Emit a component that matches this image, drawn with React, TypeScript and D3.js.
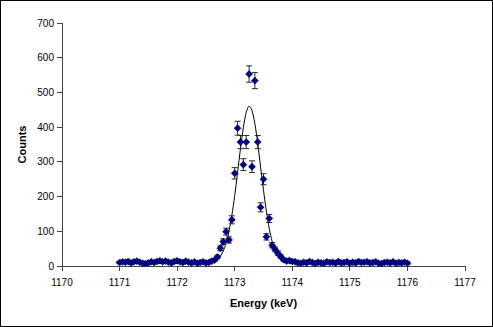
import React, { useEffect, useRef } from 'react';
import * as d3 from 'd3';

// measured spectrum: one channel every 0.05 keV from 1171.00 to 1176.00
const startEnergy = 1171;
const channelWidth = 0.05;
const counts = [
  // 1171.00 - 1172.50
  10, 12, 11, 13, 9, 12, 14, 11, 8, 7, 9, 12, 10, 13, 15, 12, 14, 11, 9, 13, 15, 12, 10, 14, 11, 9, 12, 8, 10, 12, 9,
  // 1172.55 - 1173.85 (peak)
  10, 14, 17, 26, 51, 70, 99, 75, 133, 267, 397, 357, 292, 357, 553, 286, 534, 357, 169, 250, 84, 137, 60, 48, 37, 27, 18,
  // 1173.90 - 1176.00
  14, 16, 13, 12, 9, 8, 11, 9, 13, 10, 7, 11, 9, 8, 12, 10, 11, 8, 13, 9, 10, 12, 8, 11, 9, 13, 10, 11, 12, 9, 10, 12, 8, 7, 10, 11, 9, 12, 8, 10, 9, 11, 8,
];

// fitted curve
const fitEnergies = [1171, 1172.5, 1172.6, 1172.7, 1172.75, 1172.8, 1172.85, 1172.9, 1172.95, 1173, 1173.05, 1173.1, 1173.15, 1173.2, 1173.25, 1173.3, 1173.35, 1173.4, 1173.45, 1173.5, 1173.55, 1173.6, 1173.65, 1173.7, 1173.75, 1173.8, 1173.9, 1174, 1176];
const fitCounts = [8, 8, 11, 19, 28, 43, 66, 100, 146, 203, 270, 338, 399, 442, 460, 448, 410, 353, 285, 218, 158, 108, 71, 45, 29, 19, 11, 8, 8];

const xTicks = [1170, 1171, 1172, 1173, 1174, 1175, 1176, 1177];
const yTicks = [0, 100, 200, 300, 400, 500, 600, 700];

const W = 493, H = 327;
const font = 'Arial, "Liberation Sans", sans-serif';

export default function App() {
  const ref = useRef<SVGSVGElement>(null);

  useEffect(() => {
    const svg = d3.select(ref.current);
    svg.selectAll('*').remove();

    const x = d3.scaleLinear().domain([1170, 1177]).range([62, 465]);
    const y = d3.scaleLinear().domain([0, 700]).range([266, 23]);

    const data = counts.map((c, i) => ({ e: startEnergy + i * channelWidth, c }));

    // chart border
    svg.append('rect')
      .attr('x', 0.5).attr('y', 0.5)
      .attr('width', W - 1).attr('height', H - 1)
      .attr('fill', '#fff').attr('stroke', '#000');

    // axes
    const ax = svg.append('g').attr('stroke', '#444').attr('shape-rendering', 'crispEdges');
    ax.append('line').attr('x1', x(1170)).attr('x2', x(1170)).attr('y1', y(700)).attr('y2', y(0));
    ax.append('line').attr('x1', x(1170)).attr('x2', x(1177)).attr('y1', y(0)).attr('y2', y(0));
    ax.selectAll('.yt').data(yTicks).enter().append('line')
      .attr('x1', x(1170) - 5).attr('x2', x(1170))
      .attr('y1', d => y(d)).attr('y2', d => y(d));
    ax.selectAll('.xt').data(xTicks).enter().append('line')
      .attr('x1', d => x(d)).attr('x2', d => x(d))
      .attr('y1', y(0)).attr('y2', y(0) + 5);

    svg.selectAll('.ylab').data(yTicks).enter().append('text')
      .attr('x', x(1170) - 8).attr('y', d => y(d) + 3.5)
      .attr('text-anchor', 'end')
      .style('font', `10px ${font}`)
      .text(d => d);
    svg.selectAll('.xlab').data(xTicks).enter().append('text')
      .attr('x', d => x(d)).attr('y', y(0) + 20)
      .attr('text-anchor', 'middle')
      .style('font', `10px ${font}`)
      .text(d => d);

    svg.append('text')
      .attr('x', (x(1170) + x(1177)) / 2).attr('y', 307)
      .attr('text-anchor', 'middle')
      .style('font', `bold 11px ${font}`)
      .text('Energy (keV)');
    svg.append('text')
      .attr('transform', `translate(26,${(y(0) + y(700)) / 2}) rotate(-90)`)
      .attr('text-anchor', 'middle')
      .style('font', `bold 11px ${font}`)
      .text('Counts');

    // fit line
    const line = d3.line<number>()
      .x((d, i) => x(fitEnergies[i]))
      .y(d => y(d))
      .curve(d3.curveMonotoneX);
    svg.append('path')
      .attr('d', line(fitCounts))
      .attr('fill', 'none')
      .attr('stroke', '#000')
      .attr('stroke-width', 1);

    // error bars (sqrt N)
    const eb = svg.append('g').attr('stroke', '#2a2a2a').attr('stroke-width', 1);
    data.forEach(d => {
      const err = Math.sqrt(d.c);
      const cx = x(d.e);
      const top = y(d.c + err), bot = y(d.c - err);
      eb.append('line').attr('x1', cx).attr('x2', cx).attr('y1', top).attr('y2', bot);
      eb.append('line').attr('x1', cx - 3).attr('x2', cx + 3).attr('y1', top).attr('y2', top);
      eb.append('line').attr('x1', cx - 3).attr('x2', cx + 3).attr('y1', bot).attr('y2', bot);
    });

    // markers
    svg.selectAll('.pt').data(data).enter().append('path')
      .attr('d', d3.symbol(d3.symbolSquare, 25)())
      .attr('transform', d => `translate(${x(d.e)},${y(d.c)}) rotate(45)`)
      .attr('fill', '#000080')
      .attr('stroke', '#000080')
      .attr('stroke-width', 0.5);
  }, []);

  return (
    <svg ref={ref} width={W} height={H}
      style={{ position: 'absolute', left: 0, top: 0, display: 'block' }} />
  );
}
